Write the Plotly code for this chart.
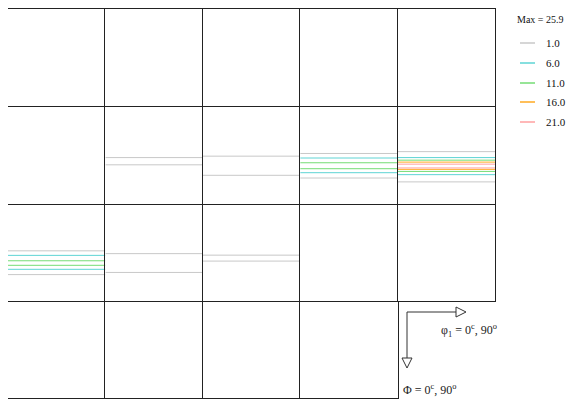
import plotly.graph_objects as go
from plotly.subplots import make_subplots

# ---- data ----
levels = [1.0, 6.0, 11.0, 16.0, 21.0]
level_labels = ["1.0", "6.0", "11.0", "16.0", "21.0"]
level_colors = ["#c8c8c8", "#5ed4d4", "#74dc74", "#ffaa22", "#ffa0a0"]
max_value = 25.9

# contour crossings per section panel (row, col): levels and Phi positions (deg, 0..90)
panel_rows = [2, 2, 2, 2, 3, 3, 3]
panel_cols = [2, 3, 4, 5, 1, 2, 3]
panel_levels = [
    [1.0, 1.0],
    [1.0, 1.0],
    [1.0, 6.0, 11.0, 11.0, 6.0, 1.0],
    [1.0, 6.0, 11.0, 16.0, 21.0, 21.0, 16.0, 11.0, 6.0, 1.0],
    [1.0, 6.0, 11.0, 11.0, 6.0, 1.0],
    [1.0, 1.0],
    [1.0, 1.0],
]
panel_positions = [
    [47.5, 54.2],
    [46.2, 63.9],
    [43.7, 47.9, 52.3, 57.8, 61.5, 66.4],
    [42.0, 47.5, 49.9, 51.7, 53.6, 57.1, 58.4, 60.3, 63.3, 70.0],
    [43.8, 48.0, 53.0, 57.2, 60.9, 65.8],
    [46.4, 63.8],
    [47.8, 53.3],
]
phi1_range = [0, 90]

# page body has an 8px margin; figure sized to fit the window
W, H = 566, 393
ML, MT = 0, 1
PW, PH = 487, 389
OX, OY = 8 + ML, 8 + MT  # window position of the plot area's top-left corner

fig = make_subplots(rows=4, cols=5, horizontal_spacing=0, vertical_spacing=0)

# empty carrier traces so every section frame is drawn
for r in range(1, 5):
    for c in range(1, 6):
        if r == 4 and c == 5:
            continue
        fig.add_trace(go.Scatter(x=[None], y=[None], mode="lines", showlegend=False,
                                 hoverinfo="skip"), row=r, col=c)

for r, c, lv, pos in zip(panel_rows, panel_cols, panel_levels, panel_positions):
    for i, L in enumerate(levels):
        xs, ys = [], []
        for l, p in zip(lv, pos):
            if l == L:
                xs += [phi1_range[0], phi1_range[1], None]
                ys += [p, p, None]
        if not xs:
            continue
        fig.add_trace(go.Scatter(
            x=xs, y=ys, mode="lines", name=level_labels[i],
            line=dict(color=level_colors[i], width=1),
            showlegend=False, hoverinfo="skip"), row=r, col=c)

for r in range(1, 5):
    for c in range(1, 6):
        vis = not (r == 4 and c == 5)
        common = dict(visible=vis, showticklabels=False, showgrid=False, zeroline=False,
                      showline=True, linecolor="#222", linewidth=1, ticks="", fixedrange=True)
        fig.update_xaxes(range=phi1_range, side="bottom",
                         mirror=(r == 1), row=r, col=c, **common)
        fig.update_yaxes(range=[90, 0], side="left",
                         mirror=(c == 5 or (r == 4 and c == 4)), row=r, col=c, **common)

def px(x):
    return (x - OX) / PW

def py(y):
    return 1 - (y - OY) / PH

FONT = "Liberation Serif"

shapes = [
    dict(type="line", xref="paper", yref="paper", x0=px(407), y0=py(312), x1=px(456), y1=py(312),
         line=dict(color="#333", width=1)),
    dict(type="path", xref="paper", yref="paper",
         path=f"M{px(456)},{py(307)} L{px(466)},{py(312)} L{px(456)},{py(317)} Z",
         line=dict(color="#333", width=1), fillcolor="white"),
    dict(type="line", xref="paper", yref="paper", x0=px(407), y0=py(312), x1=px(407), y1=py(358),
         line=dict(color="#333", width=1)),
    dict(type="path", xref="paper", yref="paper",
         path=f"M{px(402)},{py(358)} L{px(407)},{py(368)} L{px(412)},{py(358)} Z",
         line=dict(color="#333", width=1), fillcolor="white"),
]

annotations = [
    dict(text="φ<sub>1</sub> = 0<sup>c</sup>, 90<sup>o</sup>", xref="paper", yref="paper",
         x=px(439), y=py(330), xanchor="left", yanchor="middle", showarrow=False,
         font=dict(family=FONT, size=12, color="#222")),
    dict(text="Φ = 0<sup>c</sup>, 90<sup>o</sup>", xref="paper", yref="paper",
         x=px(401), y=py(389), xanchor="left", yanchor="middle", showarrow=False,
         font=dict(family=FONT, size=12, color="#222")),
    dict(text=f"Max = {max_value}", xref="paper", yref="paper",
         x=px(515), y=py(19), xanchor="left", yanchor="middle", showarrow=False,
         font=dict(family=FONT, size=10, color="#111")),
]

# legend (line samples + labels)
legend_y = [43, 63, 83, 102, 122]
for lab, col, yy in zip(level_labels, level_colors, legend_y):
    shapes.append(dict(type="line", xref="paper", yref="paper", x0=px(520), x1=px(535),
                       y0=py(yy), y1=py(yy), line=dict(color=col, width=1.5)))
    annotations.append(dict(text=lab, xref="paper", yref="paper", x=px(544), y=py(yy),
                            xanchor="left", yanchor="middle", showarrow=False,
                            font=dict(family=FONT, size=11, color="#111")))

fig.update_layout(
    width=W, height=H,
    margin=dict(l=ML, t=MT, r=W - ML - PW, b=H - MT - PH, pad=0, autoexpand=False),
    paper_bgcolor="white", plot_bgcolor="white",
    showlegend=False,
    shapes=shapes, annotations=annotations,
    font=dict(family=FONT),
)

fig.write_html("out.html")
